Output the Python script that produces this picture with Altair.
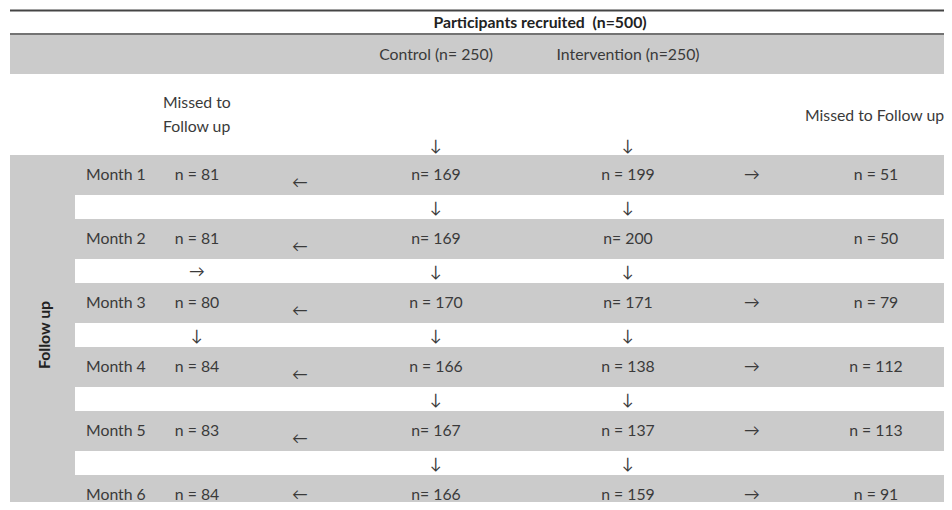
import altair as alt
import pandas as pd

# ---------------- data ----------------
header = "Participants recruited \u00a0(n=500)"
group_labels = ["Control (n= 250)", "Intervention (n=250)"]
missed_label_left = ["Missed to", "Follow up"]
missed_label_right = "Missed to Follow up"
side_label = "Follow up"

months = ["Month 1", "Month 2", "Month 3", "Month 4", "Month 5", "Month 6"]
control_n = [169, 169, 170, 166, 167, 166]
control_prefix = ["n= ", "n= ", "n = ", "n = ", "n= ", "n= "]
intervention_n = [199, 200, 171, 138, 137, 159]
intervention_prefix = ["n = ", "n= ", "n= ", "n = ", "n = ", "n = "]
missed_control_n = [81, 81, 80, 84, 83, 84]
missed_intervention_n = [51, 50, 79, 112, 113, 91]
intervention_loss_arrow = [True, False, True, True, True, True]
# arrows drawn in the missed-control column in the gap after a given month
left_gap_arrows = ["", "→", "↓", "", ""]

# ---------------- layout ----------------
W, H = 936, 494
X_LEFT, X_RIGHT = 10, 960
COL_MONTH, COL_MC, COL_LARR, COL_C, COL_I, COL_RARR, COL_MI = 86, 197, 300, 436, 628, 752, 876
ROW0, ROW_H, PERIOD = 155, 39, 64
FONT = "Lato"
FS = 15.8
TXT = "#3a3a3a"
GRAY = "#cbcbcb"

xs = alt.Scale(domain=[8, 8 + W])
ys = alt.Scale(domain=[8, 8 + H], reverse=True)


def X(f):
    return alt.X(f, type="quantitative", scale=xs, axis=None)


def Y(f):
    return alt.Y(f, type="quantitative", scale=ys, axis=None)


# background rectangles
rects = [
    dict(x=X_LEFT, x2=X_RIGHT, y=35, y2=74, c=GRAY),
    dict(x=X_LEFT, x2=X_RIGHT, y=ROW0, y2=520, c=GRAY),
]
for i in range(len(months) - 1):
    top = ROW0 + i * PERIOD + ROW_H
    rects.append(dict(x=75, x2=X_RIGHT, y=top + 1, y2=top + PERIOD - ROW_H, c="white"))
rect_df = pd.DataFrame(rects)
rect_layer = alt.Chart(rect_df).mark_rect(strokeWidth=0, clip=True).encode(
    x=X("x"), x2="x2", y=Y("y"), y2="y2",
    color=alt.Color("c:N", scale=None),
)

lines_df = pd.DataFrame([dict(x=X_LEFT, x2=X_RIGHT, y=10.5, w=1.8),
                         dict(x=X_LEFT, x2=X_RIGHT, y=34, w=1.5)])
line_layer = alt.Chart(lines_df).mark_rule(color="#444444", clip=True).encode(
    x=X("x"), x2="x2", y=Y("y"), strokeWidth=alt.StrokeWidth("w:Q", scale=None)
)

# center-aligned texts
center = [
    dict(x=COL_C, y=55, t=group_labels[0]),
    dict(x=COL_I, y=55, t=group_labels[1]),
    dict(x=COL_C, y=146, t="↓"),
    dict(x=COL_I, y=146, t="↓"),
]
for i, m in enumerate(months):
    top = ROW0 + i * PERIOD
    yt = top + 20
    center.append(dict(x=COL_MC, y=yt, t=f"n = {missed_control_n[i]}"))
    center.append(dict(x=COL_C, y=yt, t=f"{control_prefix[i]}{control_n[i]}"))
    center.append(dict(x=COL_I, y=yt, t=f"{intervention_prefix[i]}{intervention_n[i]}"))
    center.append(dict(x=COL_MI, y=yt, t=f"n = {missed_intervention_n[i]}"))
    center.append(dict(x=COL_LARR, y=min(yt + 8, 495), t="←"))
    if intervention_loss_arrow[i]:
        center.append(dict(x=COL_RARR, y=yt, t="→"))
    if i < len(months) - 1:
        gy = top + ROW_H + (PERIOD - ROW_H) / 2 + 1
        center.append(dict(x=COL_C, y=gy, t="↓"))
        center.append(dict(x=COL_I, y=gy, t="↓"))
        if left_gap_arrows[i]:
            center.append(dict(x=COL_MC, y=gy, t=left_gap_arrows[i]))
center_df = pd.DataFrame(center)
center_layer = alt.Chart(center_df).mark_text(
    align="center", baseline="middle", font=FONT, fontSize=FS, color=TXT
).encode(x=X("x"), y=Y("y"), text="t:N")

# left-aligned texts
left = [
    dict(x=163, y=103, t=missed_label_left[0]),
    dict(x=163, y=127, t=missed_label_left[1]),
    dict(x=805, y=116, t=missed_label_right),
]
for i, m in enumerate(months):
    left.append(dict(x=COL_MONTH, y=ROW0 + i * PERIOD + 20, t=m))
left_df = pd.DataFrame(left)
left_layer = alt.Chart(left_df).mark_text(
    align="left", baseline="middle", font=FONT, fontSize=FS, color=TXT
).encode(x=X("x"), y=Y("y"), text="t:N")

# bold header
bold_df = pd.DataFrame([dict(x=540, y=22.5, t=header)])
bold_layer = alt.Chart(bold_df).mark_text(
    align="center", baseline="middle", font=FONT, fontSize=FS, fontWeight="bold", color="#222222"
).encode(x=X("x"), y=Y("y"), text="t:N")

side_df = pd.DataFrame([dict(x=45, y=335, t=side_label)])
side_layer = alt.Chart(side_df).mark_text(
    align="center", baseline="middle", font=FONT, fontSize=FS, fontWeight="bold", color="#222222", angle=270
).encode(x=X("x"), y=Y("y"), text="t:N")

chart = alt.layer(
    rect_layer, line_layer, center_layer, left_layer, bold_layer, side_layer
).properties(
    width=W, height=H, padding=0, autosize=alt.AutoSizeParams(type="none")
).configure_view(stroke=None)

chart.save("out.html", embed_options={"renderer": "svg", "actions": False})
